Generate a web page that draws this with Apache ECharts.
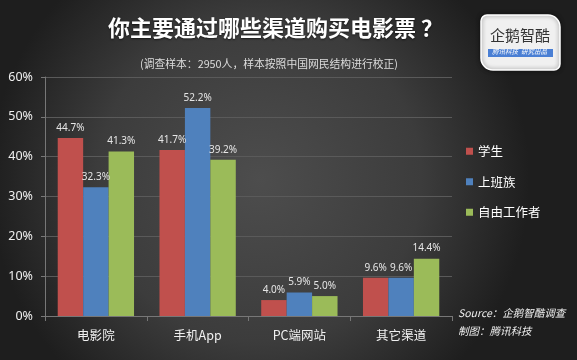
<!DOCTYPE html>
<html><head><meta charset="utf-8">
<script src="https://cdn.jsdelivr.net/npm/echarts@6/dist/echarts.min.js"></script>
<style>html,body{margin:0;padding:0;}#c{width:577px;height:360px;}</style>
</head><body><div id="c"></div>
<script>
const categories = ['电影院', '手机App', 'PC端网站', '其它渠道'];
const seriesNames = ['学生', '上班族', '自由工作者'];
const student = [44.7, 41.7, 4.0, 9.6];
const worker = [32.3, 52.2, 5.9, 9.6];
const freelancer = [41.3, 39.2, 5.0, 14.4];
const yTicks = [0, 10, 20, 30, 40, 50, 60];
const colors = ['#c0504d', '#4f81bd', '#9bbb59'];

const chart = echarts.init(document.getElementById('c'));
const mk = (name, data, i) => ({
  name, type: 'bar', data, barGap: '0%', barCategoryGap: '25%',
  itemStyle: { color: colors[i] },
  label: { show: true, position: 'top', formatter: p => p.value.toFixed(1) + '%', color: '#e6e6e6', fontSize: 10, fontFamily: 'Noto Sans', distance: 5 }
});
chart.setOption({
  backgroundColor: {
    type: 'radial', x: 0.45, y: 0.5, r: 0.75,
    colorStops: [{ offset: 0, color: '#4d4d4d' }, { offset: 0.6, color: '#3c3c3c' }, { offset: 1, color: '#1e1e1e' }]
  },
  textStyle: { fontFamily: 'Noto Sans CJK SC' },
  title: [
    { text: '你主要通过哪些渠道购买电影票 ？', left: 103, top: 12,
      textStyle: { color: '#ffffff', fontSize: 22, fontWeight: 'bold', fontFamily: 'Noto Sans CJK SC',
        textShadowColor: 'rgba(0,0,0,0.6)', textShadowBlur: 2, textShadowOffsetY: 1 } },
    { text: '(调查样本：2950人，样本按照中国网民结构进行校正)', left: 264, top: 54, textAlign: 'center',
      textStyle: { color: '#dddddd', fontSize: 10.8, fontWeight: 'normal', fontFamily: 'Noto Sans CJK SC' } }
  ],
  legend: {
    orient: 'vertical', left: 461, top: 140, itemGap: 18, itemWidth: 7, itemHeight: 7, icon: 'rect',
    textStyle: { color: '#ffffff', fontSize: 12.5, fontFamily: 'Noto Sans CJK SC' },
    data: seriesNames
  },
  grid: { left: 45, right: 125, top: 77, bottom: 44 },
  xAxis: {
    type: 'category', data: categories,
    axisLine: { lineStyle: { color: '#777', width: 1 } },
    axisTick: { show: true, length: 5, lineStyle: { color: '#777' } },
    axisLabel: { color: '#f0f0f0', fontSize: 12.5, margin: 13, fontFamily: 'Noto Sans CJK SC' }
  },
  yAxis: {
    type: 'value', min: 0, max: 60, interval: 10,
    axisLine: { show: true, lineStyle: { color: '#777' } },
    axisTick: { show: true, length: 4, lineStyle: { color: '#777' } },
    splitLine: { lineStyle: { color: '#5a5a5a', width: 1 } },
    axisLabel: { color: '#f0f0f0', fontSize: 12.5, margin: 12, formatter: v => yTicks.includes(v) ? v + '%' : '', fontFamily: 'Noto Sans' }
  },
  series: [mk(seriesNames[0], student, 0), mk(seriesNames[1], worker, 1), mk(seriesNames[2], freelancer, 2)],
  graphic: [
    { type: 'rect', shape: { x: 481, y: 15, width: 79, height: 55, r: [6, 12, 6, 12] },
      style: { fill: '#f0f0f0', stroke: '#ffffff', lineWidth: 1.5, shadowBlur: 4, shadowColor: 'rgba(0,0,0,0.5)' } },
    { type: 'text', left: 490, top: 28, style: { text: '企鹅智酷', fill: '#333', fontSize: 15, fontFamily: 'Noto Sans CJK SC' } },
    { type: 'rect', shape: { x: 488, y: 49, width: 65, height: 8 }, style: { fill: '#4a7fd4' } },
    { type: 'text', left: 492, top: 48.5, style: { text: '腾讯科技  研究出品', fill: '#fff', fontSize: 6.5, fontStyle: 'italic', fontFamily: 'Noto Sans CJK SC' } },
    { type: 'text', left: 458, top: 308, style: { text: 'Source：企鹅智酷调查', fill: '#f0f0f0', fontSize: 10.5, fontStyle: 'italic', fontFamily: 'Noto Sans CJK SC' } },
    { type: 'text', left: 458, top: 326, style: { text: '制图：腾讯科技', fill: '#f0f0f0', fontSize: 10.5, fontStyle: 'italic', fontFamily: 'Noto Sans CJK SC' } }
  ]
});
</script></body></html>
